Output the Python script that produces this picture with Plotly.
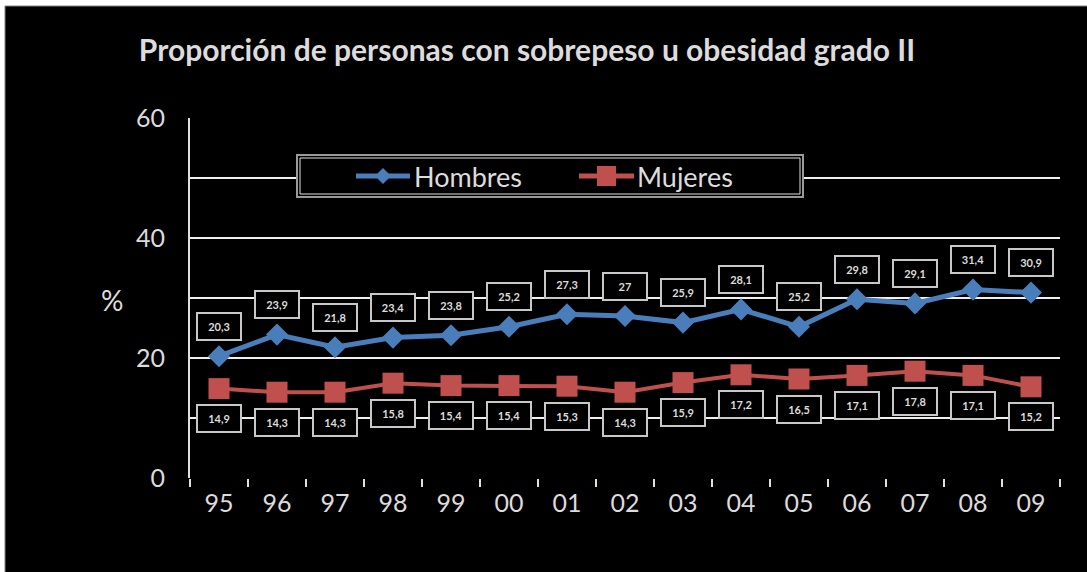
import plotly.graph_objects as go

# Survey years (two-digit labels) and percentages of people with overweight / obesity grade II
years = ["95", "96", "97", "98", "99", "00", "01", "02", "03", "04", "05", "06", "07", "08", "09"]
hombres = [20.3, 23.9, 21.8, 23.4, 23.8, 25.2, 27.3, 27.0, 25.9, 28.1, 25.2, 29.8, 29.1, 31.4, 30.9]
mujeres = [14.9, 14.3, 14.3, 15.8, 15.4, 15.4, 15.3, 14.3, 15.9, 17.2, 16.5, 17.1, 17.8, 17.1, 15.2]
y_ticks = [0, 10, 20, 30, 40, 50, 60]
y_tick_text = ["0", "", "20", "", "40", "", "60"]

title_text = "Proporción de personas con sobrepeso u obesidad grado II"

BLUE = "#4a7ebb"
RED = "#c0504d"
TXT = "#dcdcdc"
FONT = "Lato, Liberation Sans, sans-serif"

W, H = 1087, 572
L, R, T, B = 190, 1060, 118, 478


def px_x(x):
    return (x - L) / (R - L)


def px_y(y):
    return (B - y) / (B - T)


def fmt(v):
    return ("%g" % v).replace(".", ",")


fig = go.Figure()
fig.add_trace(go.Scatter(
    x=years, y=hombres, mode="lines+markers", name="Hombres",
    line=dict(color=BLUE, width=5),
    marker=dict(symbol="diamond", size=17, color=BLUE),
))
fig.add_trace(go.Scatter(
    x=years, y=mujeres, mode="lines+markers", name="Mujeres",
    line=dict(color=RED, width=4),
    marker=dict(symbol="square", size=21, color=RED),
))

annotations = []
# data labels in boxed callouts (x given as category index)
for series, shift in ((hombres, 30), (mujeres, -30)):
    for i, v in enumerate(series):
        annotations.append(dict(
            x=i, y=v, xref="x", yref="y", text="<b>" + fmt(v) + "</b>", showarrow=False,
            yshift=shift, font=dict(size=11, color=TXT, family=FONT),
            bgcolor="black", bordercolor="#c8c8c8", borderwidth=2,
            borderpad=6, width=30,
        ))

# axis title "%"
annotations.append(dict(
    x=px_x(112), y=px_y(300), xref="paper", yref="paper", text="%",
    xanchor="center", yanchor="middle",
    showarrow=False, font=dict(size=28, color=TXT, family=FONT),
))

# legend labels
annotations.append(dict(
    x=px_x(412), y=px_y(176), xref="paper", yref="paper", text="Hombres",
    xanchor="left", yanchor="middle", showarrow=False,
    font=dict(size=27, color=TXT, family=FONT),
))
annotations.append(dict(
    x=px_x(635), y=px_y(176), xref="paper", yref="paper", text="Mujeres",
    xanchor="left", yanchor="middle", showarrow=False,
    font=dict(size=27, color=TXT, family=FONT),
))

shapes = [
    # framed black background
    dict(type="rect", xref="paper", yref="paper", layer="below",
         x0=px_x(5), x1=px_x(W + 5), y0=px_y(H + 5), y1=px_y(6),
         fillcolor="black", line=dict(color="#808080", width=1)),
    # legend box (double border)
    dict(type="rect", xref="paper", yref="paper",
         x0=px_x(297), x1=px_x(803), y0=px_y(197), y1=px_y(155),
         fillcolor="black", line=dict(color="#9a9a9a", width=2)),
    dict(type="rect", xref="paper", yref="paper",
         x0=px_x(300), x1=px_x(800), y0=px_y(194), y1=px_y(158),
         line=dict(color="#e0e0e0", width=1)),
    # legend symbols
    dict(type="line", xref="paper", yref="paper",
         x0=px_x(356), x1=px_x(410), y0=px_y(176), y1=px_y(176),
         line=dict(color=BLUE, width=5)),
    dict(type="path", xref="paper", yref="paper", fillcolor=BLUE, line=dict(width=0),
         path="M {} {} L {} {} L {} {} L {} {} Z".format(
             px_x(375), px_y(176), px_x(383), px_y(168),
             px_x(391), px_y(176), px_x(383), px_y(184))),
    dict(type="line", xref="paper", yref="paper",
         x0=px_x(579), x1=px_x(634), y0=px_y(176), y1=px_y(176),
         line=dict(color=RED, width=5)),
    dict(type="rect", xref="paper", yref="paper", fillcolor=RED, line=dict(width=0),
         x0=px_x(597), x1=px_x(616), y0=px_y(186), y1=px_y(166)),
]

fig.update_layout(
    width=W, height=H,
    margin=dict(l=L, r=W - R, t=T, b=H - B),
    paper_bgcolor="white", plot_bgcolor="black",
    showlegend=False,
    title=dict(text=title_text, xref="container", x=527 / W, xanchor="center",
               yref="container", y=1 - 50 / H, yanchor="middle",
               font=dict(size=30, color=TXT, family=FONT, weight="bold")),
    annotations=annotations,
    shapes=shapes,
)
fig.update_xaxes(
    type="category", range=[-0.5, len(years) - 0.5], tickson="boundaries",
    ticks="outside", ticklen=8, tickwidth=1.5, tickcolor="#e0e0e0",
    showgrid=False, showline=False, zeroline=False,
    tickfont=dict(size=25, color=TXT, family=FONT), ticklabelstandoff=8,
)
fig.update_yaxes(
    range=[0, 60], tickvals=y_ticks, ticktext=y_tick_text,
    showgrid=True, gridcolor="#f0f0f0", gridwidth=2,
    showline=True, linecolor="#e0e0e0", linewidth=2,
    zeroline=False, ticks="",
    tickfont=dict(size=25, color=TXT, family=FONT), ticklabelstandoff=18,
)

fig.write_html("out.html")
